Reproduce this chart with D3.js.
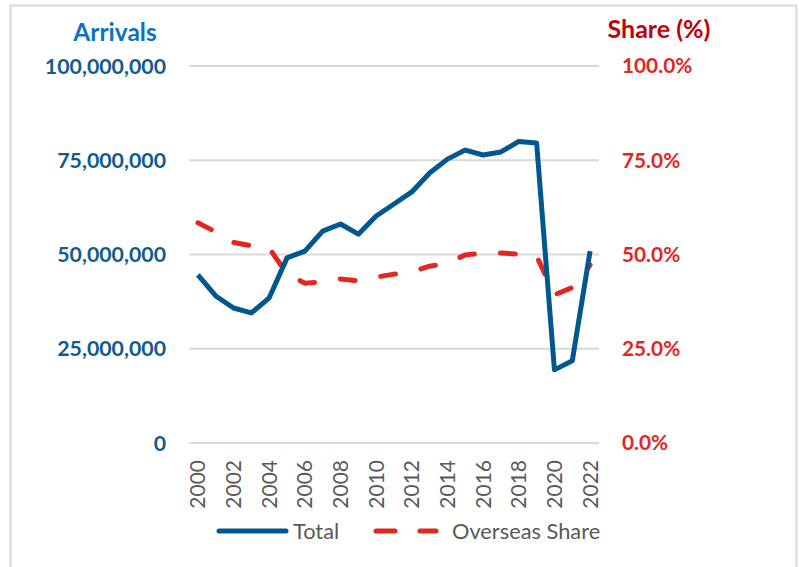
<!DOCTYPE html>
<meta charset="utf-8">
<style>
body { margin: 0; background: #fff; }
svg { font-family: Lato, "Open Sans", sans-serif; }
.grid line { stroke: #d9d9d9; stroke-width: 2px; }
.total { fill: none; stroke: #02578f; stroke-width: 5px; stroke-linejoin: round; }
.share { fill: none; stroke: #e3261f; stroke-width: 5px; stroke-linecap: round; stroke-dasharray: 15,26; }
</style>
<svg width="799" height="567"></svg>
<script src="https://d3js.org/d3.v7.min.js"></script>
<script>

var years = ["2000","2001","2002","2003","2004","2005","2006","2007","2008","2009","2010",
             "2011","2012","2013","2014","2015","2016","2017","2018","2019","2020","2021","2022"];

// total arrivals (millions)
var totalM = [44.6, 39.0, 35.8, 34.5, 38.5, 49.1, 50.9, 56.2, 58.1, 55.4, 60.2,
              63.4, 66.6, 71.6, 75.3, 77.7, 76.4, 77.2, 80.0, 79.6, 19.4, 21.8, 50.9];

// overseas share (%)
var sharePct = [58.4, 56.0, 53.2, 52.3, 51.7, 44.8, 42.4, 42.7, 43.5, 43.0, 44.0,
                44.8, 45.4, 46.9, 47.7, 49.9, 50.3, 50.4, 50.1, 49.6, 39.3, 41.2, 47.2];

var leftTicks = [0, 25000000, 50000000, 75000000, 100000000];
var rightTicks = [0, 25, 50, 75, 100];

var svg = d3.select("svg");

// chart border
svg.append("path")
    .attr("d", "M10.5,575V5.5H796.5V575")
    .attr("fill", "none")
    .attr("stroke", "#d9d9d9")
    .attr("stroke-width", 2);

var x = d3.scaleBand().domain(years).range([189, 599]);
var yL = d3.scaleLinear().domain([0, 100000000]).range([443, 66]);
var yR = d3.scaleLinear().domain([0, 100]).range([443, 66]);

// gridlines
svg.append("g").attr("class", "grid")
  .selectAll("line").data(leftTicks).enter().append("line")
    .attr("x1", 189).attr("x2", 599)
    .attr("y1", function(d) { return yL(d); })
    .attr("y2", function(d) { return yL(d); });

// left axis
var fmtL = d3.format(",");
svg.append("g")
  .selectAll("text").data(leftTicks).enter().append("text")
    .attr("x", 166)
    .attr("y", function(d) { return yL(d); })
    .attr("dy", "0.36em")
    .attr("text-anchor", "end")
    .attr("fill", "#105b8f")
    .style("font-size", "21.3px")
    .style("font-weight", "bold")
    .text(function(d) { return fmtL(d); });

svg.append("text")
    .attr("x", 115).attr("y", 41)
    .attr("text-anchor", "middle")
    .attr("fill", "#0b72bf")
    .style("font-size", "24.5px")
    .style("font-weight", "bold")
    .text("Arrivals");

// right axis
svg.append("g")
  .selectAll("text").data(rightTicks).enter().append("text")
    .attr("x", 622)
    .attr("y", function(d) { return yR(d); })
    .attr("dy", "0.36em")
    .attr("fill", "#e3261f")
    .style("font-size", "20.8px")
    .style("font-weight", "bold")
    .text(function(d) { return d.toFixed(1) + "%"; });

svg.append("text")
    .attr("x", 659).attr("y", 38)
    .attr("text-anchor", "middle")
    .attr("fill", "#c0000b")
    .style("font-size", "25px")
    .style("font-weight", "bold")
    .text("Share (%)");

// x labels, every other year
svg.append("g")
  .selectAll("text").data(years.filter(function(d, i) { return i % 2 === 0; })).enter().append("text")
    .attr("transform", function(d) { return "translate(" + (x(d) + x.bandwidth() / 2) + ",460) rotate(-90)"; })
    .attr("dy", "0.36em")
    .attr("text-anchor", "end")
    .attr("fill", "#595959")
    .style("font-size", "21px")
    .text(function(d) { return d; });

var cx = function(d, i) { return x(years[i]) + x.bandwidth() / 2; };

var totalLine = d3.line()
    .x(cx)
    .y(function(d) { return yL(d * 1000000); });

var shareLine = d3.line()
    .x(cx)
    .y(function(d) { return yR(d); });

svg.append("path").datum(sharePct).attr("class", "share").attr("d", shareLine);
svg.append("path").datum(totalM).attr("class", "total").attr("d", totalLine);

// legend
var lg = svg.append("g").attr("transform", "translate(0,531)");
lg.append("line").attr("x1", 219).attr("x2", 286).attr("y1", 0).attr("y2", 0)
    .attr("stroke", "#02578f").attr("stroke-width", 5).attr("stroke-linecap", "round");
lg.append("text").attr("x", 293).attr("dy", "0.36em")
    .attr("fill", "#595959").style("font-size", "21.8px").text("Total");
lg.append("line").attr("x1", 376).attr("x2", 436).attr("y1", 0).attr("y2", 0)
    .attr("stroke", "#e3261f").attr("stroke-width", 5).attr("stroke-linecap", "round")
    .attr("stroke-dasharray", "19,25");
lg.append("text").attr("x", 452).attr("dy", "0.36em")
    .attr("fill", "#595959").style("font-size", "21.8px").text("Overseas Share");

</script>
